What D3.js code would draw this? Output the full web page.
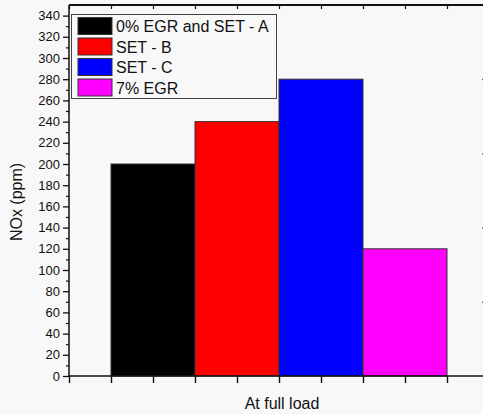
<!DOCTYPE html>
<html>
<head>
<meta charset="utf-8">
<script src="https://cdn.jsdelivr.net/npm/d3@7"></script>
<style>
  html, body { margin: 0; padding: 0; background: #f8f8f8; }
  svg { display: block; }
  text { font-family: Arial, "Liberation Sans", sans-serif; fill: #111; }
</style>
</head>
<body>
<svg id="chart" width="483" height="414"></svg>
<script>
// ---- data ----
const categories = ["0% EGR and SET - A", "SET - B", "SET - C", "7% EGR"];
const noxValues = [200, 240, 280, 120];
const barColors = ["#000000", "#ff0000", "#0000ff", "#ff00ff"];
const yTicks = [0,20,40,60,80,100,120,140,160,180,200,220,240,260,280,300,320,340];
const xLabel = "At full load";
const yLabel = "NOx (ppm)";

(function () {
// ---- layout ----
const W = 483, H = 414;
const pLeft = 69, pRight = 489, pTop = 5, pBottom = 376;

const svg = d3.select("#chart");
svg.append("rect").attr("width", W).attr("height", H).attr("fill", "#f8f8f8");

const y = d3.scaleLinear().domain([0, 350]).range([pBottom, pTop]);
const x = d3.scaleLinear().domain([0, 10]).range([pLeft, pRight]);
const band = d3.scaleBand().domain(categories).range([x(1), x(9)]).padding(0);

// bars
svg.append("g").selectAll("rect").data(categories).join("rect")
  .attr("x", d => band(d))
  .attr("width", band.bandwidth())
  .attr("y", (d, i) => y(noxValues[i]))
  .attr("height", (d, i) => y(0) - y(noxValues[i]))
  .attr("fill", (d, i) => barColors[i])
  .attr("stroke", "#333")
  .attr("stroke-width", 1);

// left axis (major outward)
const yAxis = d3.axisLeft(y).tickValues(yTicks).tickSize(6).tickPadding(3);
const gy = svg.append("g").attr("transform", `translate(${pLeft},0)`).call(yAxis);
gy.select(".domain").remove();
gy.selectAll("line").attr("stroke", "#111").attr("stroke-width", 1.3);
gy.selectAll("text").style("font-size", "13px").attr("fill", "#111");
// minor ticks
const yMinor = d3.range(10, 350, 20);
svg.append("g").attr("transform", `translate(${pLeft},0)`)
  .call(d3.axisLeft(y).tickValues(yMinor).tickSize(3).tickFormat(""))
  .call(g => g.select(".domain").remove())
  .selectAll("line").attr("stroke", "#111").attr("stroke-width", 1.2);

// bottom axis (outward)
const gx = svg.append("g").attr("transform", `translate(0,${pBottom})`)
  .call(d3.axisBottom(x).tickValues(d3.range(0, 11, 1)).tickSize(7).tickFormat(""));
gx.select(".domain").remove();
gx.selectAll("line").attr("stroke", "#111").attr("stroke-width", 1.4);

// top axis (inward)
const gt = svg.append("g").attr("transform", `translate(0,${pTop})`)
  .call(d3.axisBottom(x).tickValues(d3.range(0, 11, 1)).tickSize(4).tickFormat(""));
gt.select(".domain").remove();
gt.selectAll("line").attr("stroke", "#111").attr("stroke-width", 1.2);

// right axis (inward)
const gr = svg.append("g").attr("transform", `translate(${pRight},0)`)
  .call(d3.axisLeft(y).tickValues([70, 140, 210, 280]).tickSize(7).tickFormat(""));
gr.select(".domain").remove();
gr.selectAll("line").attr("stroke", "#333").attr("stroke-width", 1);

// frame lines
svg.append("line").attr("x1", pLeft).attr("x2", pLeft).attr("y1", pTop).attr("y2", pBottom)
  .attr("stroke", "#111").attr("stroke-width", 1.5);
svg.append("line").attr("x1", pLeft).attr("x2", pRight).attr("y1", pBottom).attr("y2", pBottom)
  .attr("stroke", "#111").attr("stroke-width", 1.5);
svg.append("line").attr("x1", pLeft).attr("x2", pRight).attr("y1", pTop).attr("y2", pTop)
  .attr("stroke", "#111").attr("stroke-width", 2);
svg.append("line").attr("x1", pRight).attr("x2", pRight).attr("y1", pTop).attr("y2", pBottom)
  .attr("stroke", "#111").attr("stroke-width", 1.5);

// axis titles
svg.append("text").attr("x", (x(1) + x(9)) / 2 + 3).attr("y", 409)
  .attr("text-anchor", "middle").style("font-size", "16px").text(xLabel);
svg.append("text")
  .attr("transform", `translate(22,202) rotate(-90)`)
  .attr("text-anchor", "middle").style("font-size", "16px").text(yLabel);

// legend
const lg = svg.append("g");
lg.append("rect").attr("x", 71.5).attr("y", 14.5).attr("width", 205).attr("height", 84)
  .attr("fill", "#f8f8f8").attr("stroke", "#444").attr("stroke-width", 1);
const row = d3.scaleBand().domain(categories).range([16, 98]).padding(0);
categories.forEach((c, i) => {
  const ry = row(c);
  lg.append("rect").attr("x", 78).attr("y", ry + 1.5).attr("width", 34).attr("height", 17)
    .attr("fill", barColors[i]).attr("stroke", "#333").attr("stroke-width", 1);
  lg.append("text").attr("x", 116).attr("y", ry + 16).style("font-size", "16px").text(c);
});
})();
</script>
</body>
</html>
